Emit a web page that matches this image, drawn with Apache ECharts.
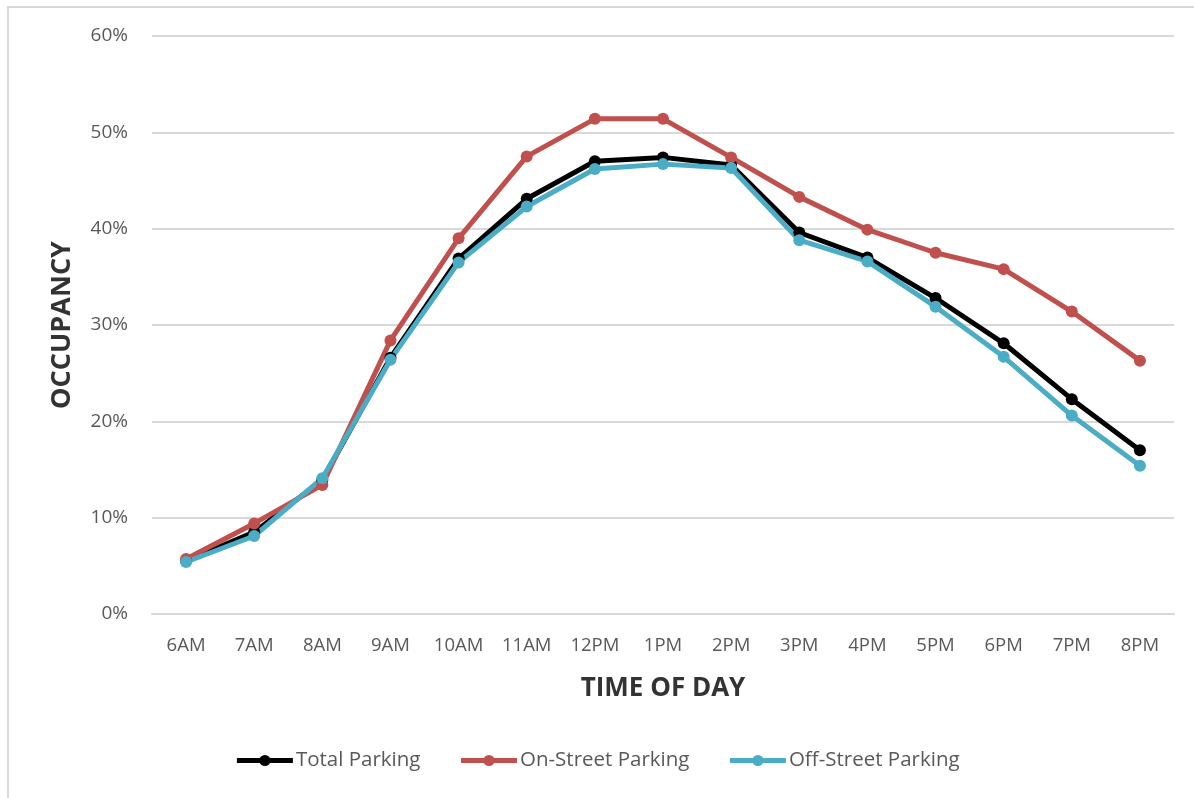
<!DOCTYPE html>
<html>
<head>
<meta charset="utf-8">
<script src="https://cdn.jsdelivr.net/npm/echarts@6/dist/echarts.min.js"></script>
<style>
html, body { margin: 0; padding: 0; background: #fff; overflow: hidden; }
#frame { position: absolute; left: 7px; top: 6px; width: 1300px; height: 900px; border-left: 2px solid #d9d9d9; border-top: 2px solid #d9d9d9; }
#chart { position: absolute; left: 0; top: 0; width: 1194px; height: 798px; }
</style>
</head>
<body>
<div id="frame"></div>
<div id="chart"></div>
<script>
var hours = ['6AM','7AM','8AM','9AM','10AM','11AM','12PM','1PM','2PM','3PM','4PM','5PM','6PM','7PM','8PM'];
var totalParking = [5.5, 8.5, 13.9, 26.6, 36.9, 43.1, 47.0, 47.4, 46.6, 39.6, 37.0, 32.8, 28.1, 22.3, 17.0];
var onStreet = [5.7, 9.4, 13.4, 28.4, 39.0, 47.5, 51.4, 51.4, 47.4, 43.3, 39.9, 37.5, 35.8, 31.4, 26.3];
var offStreet = [5.4, 8.1, 14.1, 26.4, 36.5, 42.3, 46.2, 46.7, 46.3, 38.8, 36.6, 31.9, 26.7, 20.6, 15.4];

var myChart = echarts.init(document.getElementById('chart'));
var font = '"Open Sans", "Liberation Sans", sans-serif';

function lineSeries(name, data, color){
    return {
        name: name,
        type: 'line',
        data: data,
        symbol: 'circle',
        symbolSize: 12,
        lineStyle: { color: color, width: 5 },
        itemStyle: { color: color },
        z: 3
    };
}

myChart.setOption({
    animation: false,
    textStyle: { fontFamily: font },
    grid: { left: 152, right: 20, top: 36, bottom: 184 },
    legend: {
        bottom: 22,
        left: 'center',
        itemWidth: 56,
        itemHeight: 14,
        itemGap: 38,
        lineStyle: { width: 5 },
        textStyle: { fontSize: 20.5, color: '#595959', fontFamily: font, padding: [0, 0, 0, -2] },
        data: ['Total Parking', 'On-Street Parking', 'Off-Street Parking']
    },
    xAxis: {
        type: 'category',
        data: hours,
        boundaryGap: true,
        name: 'TIME OF DAY',
        nameLocation: 'middle',
        nameGap: 62,
        nameTextStyle: { fontSize: 26, fontWeight: 'bold', color: '#333333', fontFamily: font },
        axisLine: { show: true, lineStyle: { color: '#d9d9d9', width: 2 } },
        axisTick: { show: false },
        axisLabel: { fontSize: 18.5, color: '#595959', margin: 22 }
    },
    yAxis: {
        type: 'value',
        min: 0,
        max: 60,
        interval: 10,
        name: 'OCCUPANCY',
        nameLocation: 'middle',
        nameGap: 76,
        nameTextStyle: { fontSize: 27, fontWeight: 'bold', color: '#333333', fontFamily: font },
        axisLine: { show: false },
        axisTick: { show: false },
        axisLabel: { fontSize: 19, color: '#595959', margin: 24, formatter: '{value}%' },
        splitLine: { lineStyle: { color: '#d9d9d9', width: 2 } }
    },
    series: [
        lineSeries('Total Parking', totalParking, '#000000'),
        lineSeries('On-Street Parking', onStreet, '#c0504d'),
        lineSeries('Off-Street Parking', offStreet, '#4bacc6')
    ]
});

window.onresize = function(){
    myChart.resize();
};
</script>
</body>
</html>
